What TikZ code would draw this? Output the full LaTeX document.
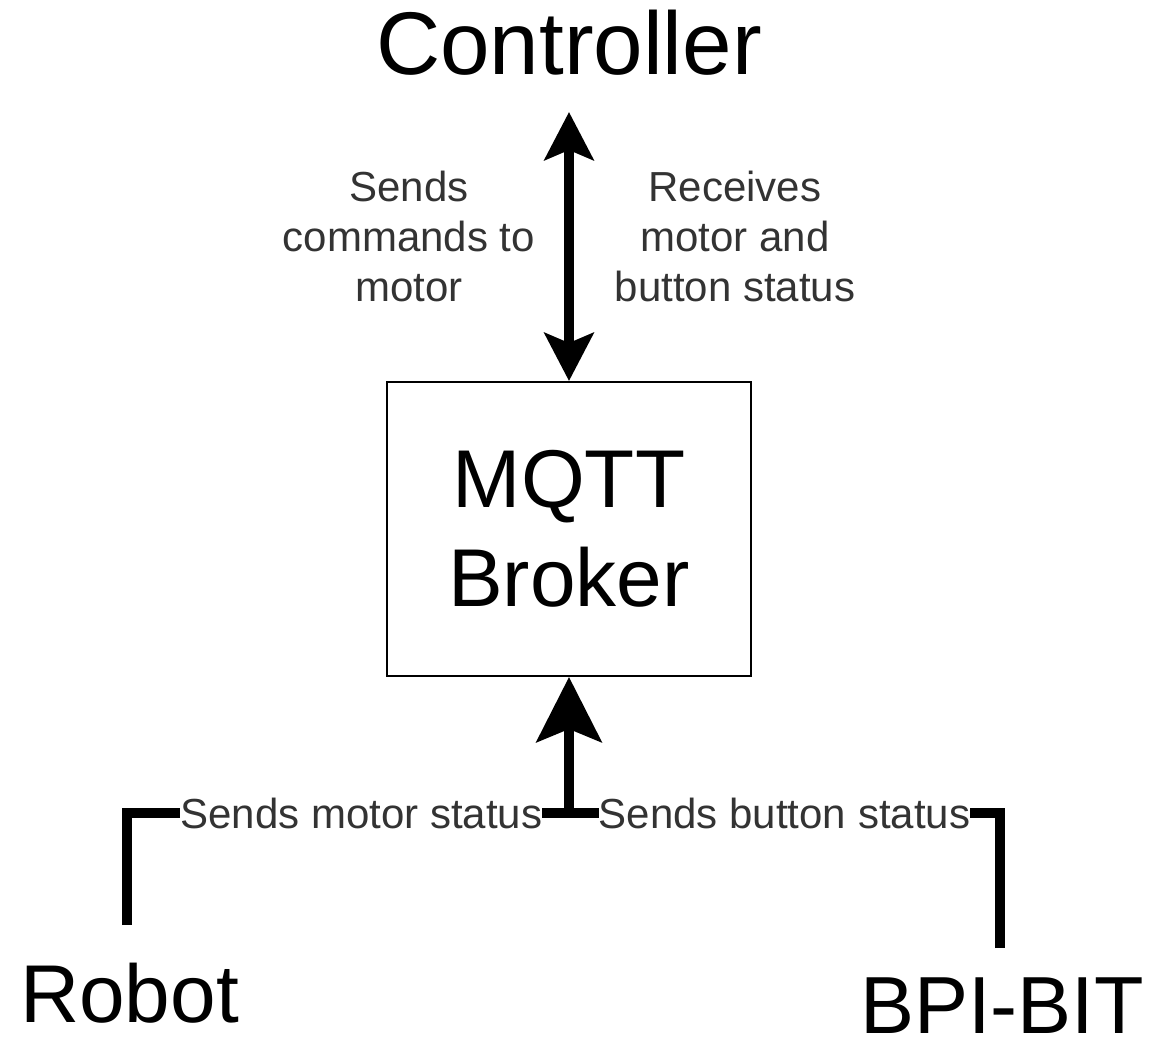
\documentclass[tikz,border=0pt]{standalone}
\usepackage{fontspec}
\setmainfont{Liberation Sans}
\usetikzlibrary{arrows.meta}
\definecolor{txtgray}{HTML}{333333}
\begin{document}
\begin{tikzpicture}[x=1pt,y=-1pt,
  big/.style={font=\fontsize{82}{99}\selectfont, inner sep=0pt, outer sep=0pt},
  small/.style={font=\fontsize{42}{50}\selectfont, text=txtgray, align=center, inner sep=0pt},
  thickline/.style={line width=10pt, line join=miter},
  lbl/.style={small, fill=white, inner xsep=0pt, inner ysep=2pt}
]
\useasboundingbox (0,0) rectangle (1150,1038);

\node[big, font=\fontsize{89}{99}\selectfont, anchor=base, text depth=37pt] (ctrl) at (569,75) {Controller};
\node[draw, line width=2pt, minimum width=364pt, minimum height=294pt, align=center,
      font=\fontsize{82}{99}\selectfont, inner sep=0pt] (broker) at (569,529) {MQTT\\Broker};
\node[big, anchor=base, text height=97pt] (robot) at (129.5,1022) {Robot};
\node[big, font=\fontsize{81}{99}\selectfont, anchor=base, text height=85pt] (bpi) at (1002,1033) {BPI-BIT};
\coordinate (j) at (569,813);

\node[small] (sendcmd) at (409,236) {Sends\\commands to\\motor};
\node[small] (recv) at (735,236) {Receives\\motor and\\button status};

\draw[thickline, {Stealth[length=48pt,width=49pt,inset=10pt]}-{Stealth[length=48pt,width=49pt,inset=10pt]}]
  (ctrl.south) -- (broker.north);

\draw[thickline] ([xshift=-2.5pt]robot.north) |- node[lbl, pos=0.765] (l1) {Sends motor status} (j);
\draw[thickline] ([xshift=-2pt]bpi.north) |- node[lbl, pos=0.75] (l2) {Sends button status} (j);
\draw[thickline, -{Stealth[length=65pt,width=65pt,inset=13pt]}] (j) -- (broker.south);
\end{tikzpicture}
\end{document}
